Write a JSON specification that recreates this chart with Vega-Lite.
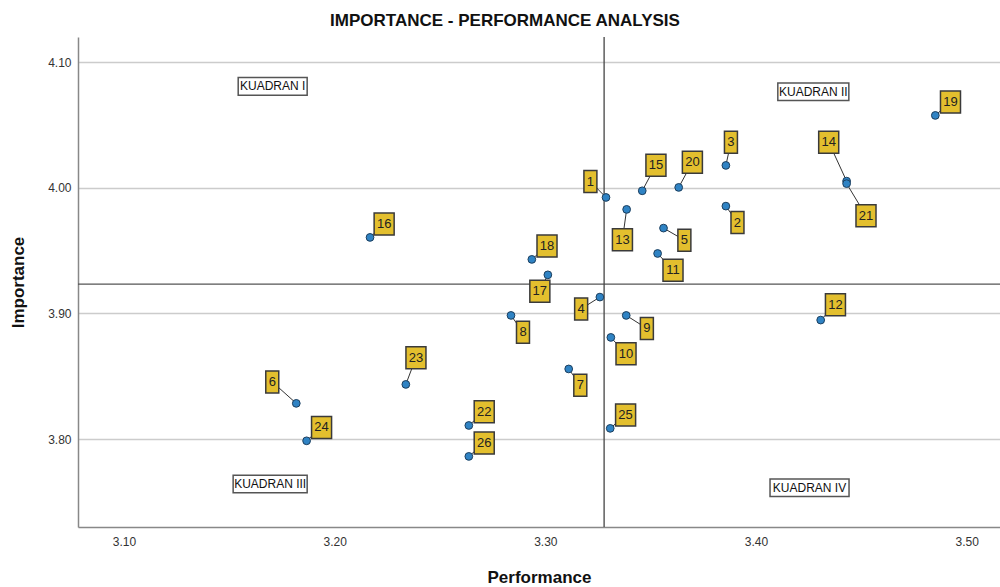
{
  "$schema": "https://vega.github.io/schema/vega-lite/v6.json",
  "autosize": {"type": "none"},
  "width": 922,
  "height": 490,
  "padding": {"left": 78, "top": 37, "right": 0, "bottom": 60},
  "background": "white",
  "title": {
    "text": "IMPORTANCE - PERFORMANCE ANALYSIS",
    "font": "Liberation Sans",
    "fontSize": 17,
    "fontWeight": "bold",
    "color": "#111111",
    "dx": -34,
    "offset": 6
  },
  "config": {
    "view": {"stroke": null},
    "font": "Liberation Sans"
  },
  "datasets": {
    "pts": [
      {"id": 1, "perf": 3.3288, "imp": 3.9923, "lab_perf": 3.3214, "lab_imp": 4.0049},
      {"id": 2, "perf": 3.3857, "imp": 3.9854, "lab_perf": 3.3912, "lab_imp": 3.9723},
      {"id": 3, "perf": 3.3857, "imp": 4.0178, "lab_perf": 3.3881, "lab_imp": 4.0363},
      {"id": 4, "perf": 3.3259, "imp": 3.9130, "lab_perf": 3.3170, "lab_imp": 3.9036},
      {"id": 5, "perf": 3.3561, "imp": 3.9679, "lab_perf": 3.3660, "lab_imp": 3.9583},
      {"id": 6, "perf": 3.1818, "imp": 3.8284, "lab_perf": 3.1704, "lab_imp": 3.8455},
      {"id": 7, "perf": 3.3111, "imp": 3.8558, "lab_perf": 3.3166, "lab_imp": 3.8429},
      {"id": 8, "perf": 3.2837, "imp": 3.8984, "lab_perf": 3.2894, "lab_imp": 3.8851},
      {"id": 9, "perf": 3.3384, "imp": 3.8984, "lab_perf": 3.3482, "lab_imp": 3.8880},
      {"id": 10, "perf": 3.3311, "imp": 3.8809, "lab_perf": 3.3383, "lab_imp": 3.8678},
      {"id": 11, "perf": 3.3533, "imp": 3.9477, "lab_perf": 3.3606, "lab_imp": 3.9344},
      {"id": 12, "perf": 3.4307, "imp": 3.8947, "lab_perf": 3.4377, "lab_imp": 3.9068},
      {"id": 13, "perf": 3.3386, "imp": 3.9828, "lab_perf": 3.3366, "lab_imp": 3.9587},
      {"id": 14, "perf": 3.4430, "imp": 4.0053, "lab_perf": 3.4345, "lab_imp": 4.0363},
      {"id": 15, "perf": 3.3460, "imp": 3.9976, "lab_perf": 3.3525, "lab_imp": 4.0180},
      {"id": 16, "perf": 3.2168, "imp": 3.9605, "lab_perf": 3.2235, "lab_imp": 3.9711},
      {"id": 17, "perf": 3.3012, "imp": 3.9307, "lab_perf": 3.2974, "lab_imp": 3.9177},
      {"id": 18, "perf": 3.2936, "imp": 3.9430, "lab_perf": 3.3008, "lab_imp": 3.9536},
      {"id": 19, "perf": 3.4851, "imp": 4.0576, "lab_perf": 3.4923, "lab_imp": 4.0682},
      {"id": 20, "perf": 3.3633, "imp": 4.0003, "lab_perf": 3.3698, "lab_imp": 4.0204},
      {"id": 21, "perf": 3.4430, "imp": 4.0033, "lab_perf": 3.4522, "lab_imp": 3.9778},
      {"id": 22, "perf": 3.2637, "imp": 3.8108, "lab_perf": 3.2710, "lab_imp": 3.8217},
      {"id": 23, "perf": 3.2338, "imp": 3.8435, "lab_perf": 3.2386, "lab_imp": 3.8648},
      {"id": 24, "perf": 3.1867, "imp": 3.7986, "lab_perf": 3.1938, "lab_imp": 3.8092},
      {"id": 25, "perf": 3.3308, "imp": 3.8085, "lab_perf": 3.3381, "lab_imp": 3.8192},
      {"id": 26, "perf": 3.2637, "imp": 3.7862, "lab_perf": 3.2710, "lab_imp": 3.7968}
    ],
    "quads": [
      {"name": "KUADRAN I", "perf": 3.1706, "imp": 4.0807},
      {"name": "KUADRAN II", "perf": 3.4272, "imp": 4.0765},
      {"name": "KUADRAN III", "perf": 3.1694, "imp": 3.7643},
      {"name": "KUADRAN IV", "perf": 3.4254, "imp": 3.7613}
    ],
    "means": [
      {"perf_mean": 3.3279, "imp_mean": 3.9233}
    ]
  },
  "layer": [
    {
      "data": {"name": "means"},
      "mark": {"type": "rule", "color": "#555555", "strokeWidth": 1.3},
      "encoding": {
        "y": {
          "field": "imp_mean",
          "type": "quantitative",
          "scale": {"domain": [3.73, 4.12], "nice": false, "zero": false},
          "axis": {
            "title": "Importance",
            "titleFont": "Liberation Sans",
            "titleFontSize": 17,
            "titleFontWeight": "bold",
            "titleColor": "#111111",
            "titlePadding": 20,
            "values": [3.8, 3.9, 4.0, 4.1],
            "format": ".2f",
            "labelFont": "Liberation Sans",
            "labelFontSize": 12,
            "labelColor": "#333333",
            "labelPadding": 7,
            "ticks": false,
            "domainColor": "#888888",
            "domainWidth": 1.5,
            "grid": true,
            "gridColor": "#cccccc",
            "gridWidth": 1.5
          }
        }
      }
    },
    {
      "data": {"name": "means"},
      "mark": {"type": "rule", "color": "#444444", "strokeWidth": 1.3},
      "encoding": {
        "x": {
          "field": "perf_mean",
          "type": "quantitative",
          "scale": {"domain": [3.0782, 3.5158], "nice": false, "zero": false},
          "axis": {
            "title": "Performance",
            "titleFont": "Liberation Sans",
            "titleFontSize": 17,
            "titleFontWeight": "bold",
            "titleColor": "#111111",
            "titlePadding": 22,
            "values": [3.1, 3.2, 3.3, 3.4, 3.5],
            "format": ".2f",
            "labelFont": "Liberation Sans",
            "labelFontSize": 12,
            "labelColor": "#333333",
            "labelPadding": 9,
            "ticks": false,
            "domainColor": "#888888",
            "domainWidth": 1.5,
            "grid": false
          }
        }
      }
    },
    {
      "data": {"name": "pts"},
      "mark": {"type": "rule", "color": "#333333", "strokeWidth": 1},
      "encoding": {
        "x": {"field": "perf", "type": "quantitative"},
        "y": {"field": "imp", "type": "quantitative"},
        "x2": {"field": "lab_perf"},
        "y2": {"field": "lab_imp"}
      }
    },
    {
      "data": {"name": "pts"},
      "mark": {"type": "point", "filled": true, "size": 60, "fill": "#2f83c4", "stroke": "#1d3f5e", "strokeWidth": 1, "opacity": 1},
      "encoding": {
        "x": {"field": "perf", "type": "quantitative"},
        "y": {"field": "imp", "type": "quantitative"}
      }
    },
    {
      "data": {"name": "pts"},
      "mark": {"type": "point", "filled": true, "size": 484, "fill": "#e3bf2e", "stroke": "#3a3a3a", "strokeWidth": 1.5, "opacity": 1},
      "encoding": {
        "x": {"field": "lab_perf", "type": "quantitative"},
        "y": {"field": "lab_imp", "type": "quantitative"},
        "shape": {
          "condition": {"test": "datum.id >= 10", "value": "M-0.91,-1H0.91V1H-0.91Z"},
          "value": "M-0.59,-1H0.59V1H-0.59Z"
        }
      }
    },
    {
      "data": {"name": "pts"},
      "mark": {"type": "text", "font": "Liberation Sans", "fontSize": 13, "color": "#222222", "align": "center", "baseline": "middle"},
      "encoding": {
        "x": {"field": "lab_perf", "type": "quantitative"},
        "y": {"field": "lab_imp", "type": "quantitative"},
        "text": {"field": "id", "type": "nominal"}
      }
    },
    {
      "data": {"name": "quads"},
      "mark": {"type": "point", "filled": true, "size": 6241, "fill": "white", "stroke": "#555555", "strokeWidth": 1.5, "opacity": 1},
      "encoding": {
        "x": {"field": "perf", "type": "quantitative"},
        "y": {"field": "imp", "type": "quantitative"},
        "shape": {
          "field": "name",
          "type": "nominal",
          "legend": null,
          "scale": {
            "domain": ["KUADRAN I", "KUADRAN II", "KUADRAN III", "KUADRAN IV"],
            "range": ["M-0.873,-0.222H0.873V0.222H-0.873Z", "M-0.899,-0.222H0.899V0.222H-0.899Z", "M-0.937,-0.222H0.937V0.222H-0.937Z", "M-1,-0.222H1V0.222H-1Z"]
          }
        }
      }
    },
    {
      "data": {"name": "quads"},
      "mark": {"type": "text", "font": "Liberation Sans", "fontSize": 12, "color": "#111111", "align": "center", "baseline": "middle"},
      "encoding": {
        "x": {"field": "perf", "type": "quantitative"},
        "y": {"field": "imp", "type": "quantitative"},
        "text": {"field": "name", "type": "nominal"}
      }
    }
  ]
}
